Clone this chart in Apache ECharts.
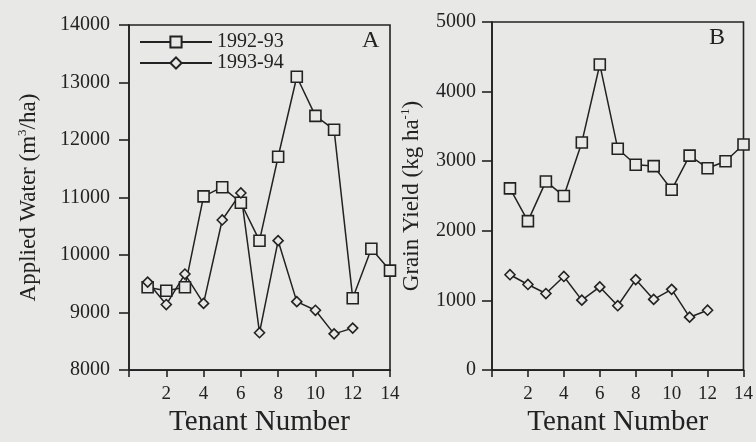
<!DOCTYPE html>
<html><head><meta charset="utf-8">
<script src="https://cdn.jsdelivr.net/npm/echarts@6/dist/echarts.min.js"></script>
<style>html,body{margin:0;padding:0;background:#e8e8e6;}#c{width:756px;height:442px;}</style>
</head><body><div id="c"></div>
<script>
var tenants = [1,2,3,4,5,6,7,8,9,10,11,12,13,14];
var seriesNames = ['1992-93','1993-94'];
var waterA92 = [9440, 9380, 9440, 11020, 11180, 10910, 10250, 11710, 13100, 12420, 12180, 9250, 10110, 9730];
var waterA93 = [9530, 9140, 9670, 9160, 10610, 11080, 8650, 10250, 9190, 9040, 8630, 8730];
var yieldB92 = [2610, 2140, 2710, 2500, 3270, 4390, 3180, 2950, 2930, 2590, 3080, 2900, 3000, 3240];
var yieldB93 = [1370, 1230, 1100, 1345, 1005, 1195, 925, 1300, 1015, 1160, 760, 860];

function pairs(vals){ return vals.map(function(v,i){ return [tenants[i], v]; }); }

var ink = '#222';
var bg = '#e8e8e6';
var font = "'Liberation Serif','DejaVu Serif',serif";
var diamondPath = 'path://M0,5L5,0L10,5L5,10Z';

var nameRich = {
  n:{fontFamily:font, fontSize:23, color:ink, lineHeight:26},
  s:{fontFamily:font, fontSize:13, color:ink, verticalAlign:'top', lineHeight:14}
};

function xAxis(idx){
  return {
    type:'value', gridIndex:idx, min:0, max:14, interval:2,
    name:'Tenant Number', nameLocation:'middle', nameGap:37,
    nameTextStyle:{fontFamily:font, fontSize:29, color:ink},
    axisLine:{show:true, lineStyle:{color:ink, width:1.6}},
    axisTick:{show:true, inside:false, length:7, lineStyle:{color:ink, width:1.6}},
    axisLabel:{fontFamily:font, fontSize:19, color:ink, margin:14,
      formatter:function(v){ return v===0 ? '' : String(v); }},
    splitLine:{show:false}
  };
}
function yAxis(idx, min, max, interval, name, gap, margin){
  return {
    type:'value', gridIndex:idx, min:min, max:max, interval:interval,
    name:name, nameLocation:'middle', nameGap:gap,
    nameTextStyle:{fontFamily:font, fontSize:23, color:ink, rich:nameRich},
    axisLine:{show:true, lineStyle:{color:ink, width:1.6}},
    axisTick:{show:true, inside:false, length:10, lineStyle:{color:ink, width:1.6}},
    axisLabel:{fontFamily:font, fontSize:20, color:ink, margin:margin,
      formatter:function(v){ return String(v); }},
    splitLine:{show:false}
  };
}
function line(name, xi, yi, vals, sym, size){
  return {
    name:name, type:'line', xAxisIndex:xi, yAxisIndex:yi, data:pairs(vals),
    symbol:sym, symbolSize:size, showAllSymbol:true,
    lineStyle:{color:ink, width:1.5},
    itemStyle:{color:bg, borderColor:ink, borderWidth:1.6},
    emphasis:{disabled:true}, animation:false
  };
}

var chart = echarts.init(document.getElementById('c'), null, {renderer:'canvas'});
chart.setOption({
  backgroundColor:bg,
  animation:false,
  grid:[
    {left:129, right:366, top:25, bottom:66, show:true, borderColor:ink, borderWidth:1.6, backgroundColor:'transparent'},
    {left:492, right:10, top:22, bottom:69, show:true, borderColor:ink, borderWidth:1.6, backgroundColor:'transparent'}
  ],
  xAxis:[xAxis(0), xAxis(1)],
  yAxis:[
    yAxis(0, 8000, 14000, 1000, '{n|Applied Water (m}{s|3}{n|/ha)}', 87, 19),
    yAxis(1, 0, 5000, 1000, '{n|Grain Yield (kg ha}{s|-1}{n|)}', 67, 16)
  ],
  legend:{
    left:134, top:27, orient:'vertical', itemWidth:72, itemHeight:14, itemGap:1,
    textStyle:{fontFamily:font, fontSize:20, color:ink, lineHeight:20},
    data:[seriesNames[0], seriesNames[1]]
  },
  graphic:[
    {type:'text', left:362, top:29, style:{text:'A', font:'24px '+font, fill:ink}},
    {type:'text', left:709, top:26, style:{text:'B', font:'24px '+font, fill:ink}}
  ],
  series:[
    line(seriesNames[0], 0, 0, waterA92, 'rect', 11),
    line(seriesNames[1], 0, 0, waterA93, diamondPath, 10),
    line(seriesNames[0]+' ', 1, 1, yieldB92, 'rect', 11),
    line(seriesNames[1]+' ', 1, 1, yieldB93, diamondPath, 10)
  ]
});
</script></body></html>
